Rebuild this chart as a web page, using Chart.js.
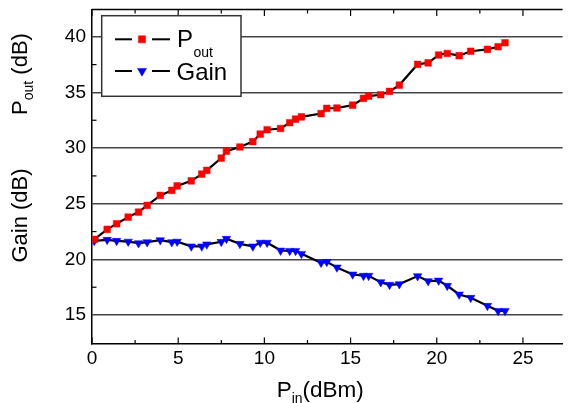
<!DOCTYPE html>
<html><head><meta charset="utf-8">
<script src="https://cdn.jsdelivr.net/npm/chart.js@4/dist/chart.umd.min.js"></script>
<style>html,body{margin:0;padding:0;background:#fff;}canvas{display:block;}</style>
</head><body>
<canvas id="c" width="568" height="403"></canvas>
<script>
const pin  = [0.13,0.88,1.43,2.1,2.7,3.2,3.96,4.63,4.94,5.76,6.37,6.66,7.5,7.8,8.58,9.33,9.76,10.16,10.94,11.47,11.81,12.15,13.29,13.62,14.21,15.12,15.75,16.05,16.75,17.26,17.83,18.89,19.5,20.11,20.61,21.3,21.97,22.94,23.56,23.96];
const pout = [21.8,22.7,23.2,23.8,24.25,24.85,25.75,26.2,26.6,27.06,27.66,28.0,29.1,29.73,30.1,30.58,31.26,31.65,31.76,32.28,32.6,32.8,33.1,33.57,33.6,33.86,34.46,34.67,34.79,35.09,35.66,37.52,37.66,38.36,38.5,38.3,38.7,38.87,39.1,39.46];
const gain = [21.67,21.76,21.67,21.6,21.46,21.55,21.73,21.55,21.6,21.17,21.17,21.35,21.58,21.85,21.4,21.17,21.5,21.5,20.8,20.77,20.77,20.5,19.7,19.78,19.28,18.65,18.53,18.53,17.96,17.72,17.78,18.5,18.05,18.1,17.63,16.85,16.55,15.83,15.38,15.38];
const xTicks = [0,5,10,15,20,25];
const yTicks = [15,20,25,30,35,40];
const xMinor = [2.5,7.5,12.5,17.5,22.5];
const yMinor = [17.5,22.5,27.5,32.5,37.5];

const FONT = 'Arial, "Liberation Sans", sans-serif';

const overlay = {
  id: 'overlay',
  afterDraw(chart) {
    const ctx = chart.ctx;
    const a = chart.chartArea;
    const xs = chart.scales.x, ys = chart.scales.y;
    ctx.save();
    ctx.strokeStyle = '#000';
    ctx.lineWidth = 1.5;
    ctx.beginPath(); ctx.moveTo(a.left, a.top); ctx.lineTo(a.right, a.top); ctx.stroke();
    ctx.lineWidth = 1.2;
    const tk = (vals, len) => {
      vals.forEach(v => {
        const px = xs.getPixelForValue(v);
        ctx.beginPath(); ctx.moveTo(px, a.bottom); ctx.lineTo(px, a.bottom - len); ctx.stroke();
        ctx.beginPath(); ctx.moveTo(px, a.top); ctx.lineTo(px, a.top + len); ctx.stroke();
      });
    };
    tk(xTicks, 6.5); tk(xMinor, 4);
    yMinor.forEach(v => {
      const py = ys.getPixelForValue(v);
      ctx.beginPath(); ctx.moveTo(a.left, py); ctx.lineTo(a.left + 4.5, py); ctx.stroke();
    });
    // legend
    const lx = 101.7, ly = 15.7, lw = 139.3, lh = 80.6;
    ctx.fillStyle = '#fff';
    ctx.fillRect(lx, ly, lw, lh);
    ctx.strokeStyle = '#333'; ctx.lineWidth = 1.5;
    ctx.strokeRect(lx, ly, lw, lh);
    const rows = [{y: 39.3, ds: 0}, {y: 71, ds: 1}];
    rows.forEach(r => {
      ctx.strokeStyle = '#000'; ctx.lineWidth = 2;
      ctx.beginPath(); ctx.moveTo(115, r.y); ctx.lineTo(132, r.y); ctx.stroke();
      ctx.beginPath(); ctx.moveTo(152, r.y); ctx.lineTo(170, r.y); ctx.stroke();
      const d = chart.data.datasets[r.ds];
      ctx.fillStyle = d.pointBackgroundColor;
      ctx.strokeStyle = d.pointBackgroundColor;
      ctx.lineWidth = 0.5;
      Chart.helpers.drawPoint(ctx, {pointStyle: d.pointStyle, rotation: d.pointRotation || 0, radius: d.pointRadius + 0.3, borderWidth: 0.5}, 142, r.y);
    });
    ctx.fillStyle = '#000';
    ctx.textBaseline = 'alphabetic';
    ctx.textAlign = 'left';
    ctx.font = '24px ' + FONT;
    ctx.fillText('P', 177, 46.7);
    let w = ctx.measureText('P').width;
    ctx.font = '14px ' + FONT;
    ctx.fillText('out', 177 + w + 0.5, 57);
    ctx.font = '24px ' + FONT;
    ctx.fillText('Gain', 176.5, 80);
    const drawSub = (parts, x, y) => {
      let cx = x;
      parts.forEach(p => {
        ctx.font = p.size + 'px ' + FONT;
        ctx.fillText(p.t, cx, y + (p.dy || 0));
        cx += ctx.measureText(p.t).width;
      });
      return cx - x;
    };
    const widthOf = parts => parts.reduce((s, p) => { ctx.font = p.size + 'px ' + FONT; return s + ctx.measureText(p.t).width; }, 0);
    const xt = [{t:'P', size:22.5},{t:'in', size:14, dy:6},{t:'(dBm)', size:22.5}];
    drawSub(xt, 276.7, 396.7);
    const yt1 = [{t:'P', size:22},{t:'out', size:14, dy:6},{t:' (dB)', size:22}];
    const yt2 = [{t:'Gain (dB)', size:22}];
    ctx.save();
    ctx.translate(27, 0);
    ctx.rotate(-Math.PI / 2);
    let w1 = widthOf(yt1);
    drawSub(yt1, -74 - w1 / 2, 0);
    let w2 = widthOf(yt2);
    drawSub(yt2, -215.5 - w2 / 2, 0);
    ctx.restore();
    ctx.restore();
  }
};

new Chart(document.getElementById('c'), {
  type: 'line',
  data: {
    datasets: [
      {
        label: 'Pout',
        data: pin.map((x, i) => ({x, y: pout[i]})),
        borderColor: '#000', borderWidth: 2.2,
        pointStyle: 'rect', pointRadius: 4.7,
        pointBackgroundColor: '#ff0000', pointBorderColor: '#ff0000', pointBorderWidth: 0.5,
        tension: 0, fill: false
      },
      {
        label: 'Gain',
        data: pin.map((x, i) => ({x, y: gain[i]})),
        borderColor: '#000', borderWidth: 2.2,
        pointStyle: 'triangle', pointRotation: 180, pointRadius: 4.9,
        pointBackgroundColor: '#0000ff', pointBorderColor: '#0000ff', pointBorderWidth: 0.5,
        tension: 0, fill: false
      }
    ]
  },
  options: {
    responsive: false,
    animation: false,
    events: [],
    layout: { padding: { left: 0, top: 9.5, right: 0, bottom: 0 } },
    plugins: { legend: { display: false }, tooltip: { enabled: false }, title: { display: false } },
    scales: {
      x: {
        type: 'linear', min: 0, max: 27.3,
        afterBuildTicks: s => { s.ticks = xTicks.map(v => ({value: v})); },
        afterFit: s => { s.height = 59; s.paddingLeft = 0; s.paddingRight = 0; },
        grid: { display: false, drawTicks: false },
        border: { display: true, color: '#000', width: 1.5 },
        ticks: { color: '#000', font: { family: FONT, size: 19 }, padding: 3, autoSkip: false, maxRotation: 0 }
      },
      y: {
        type: 'linear', min: 12.4, max: 42.45,
        afterBuildTicks: s => { s.ticks = yTicks.map(v => ({value: v})); },
        afterFit: s => { s.width = 92; s.paddingTop = 0; s.paddingBottom = 0; },
        grid: { display: true, drawTicks: false, color: '#444', lineWidth: 1.5 },
        border: { display: true, color: '#000', width: 1.5 },
        ticks: { color: '#000', font: { family: FONT, size: 19 }, padding: 6 }
      }
    }
  },
  plugins: [overlay]
});
</script>
</body></html>
